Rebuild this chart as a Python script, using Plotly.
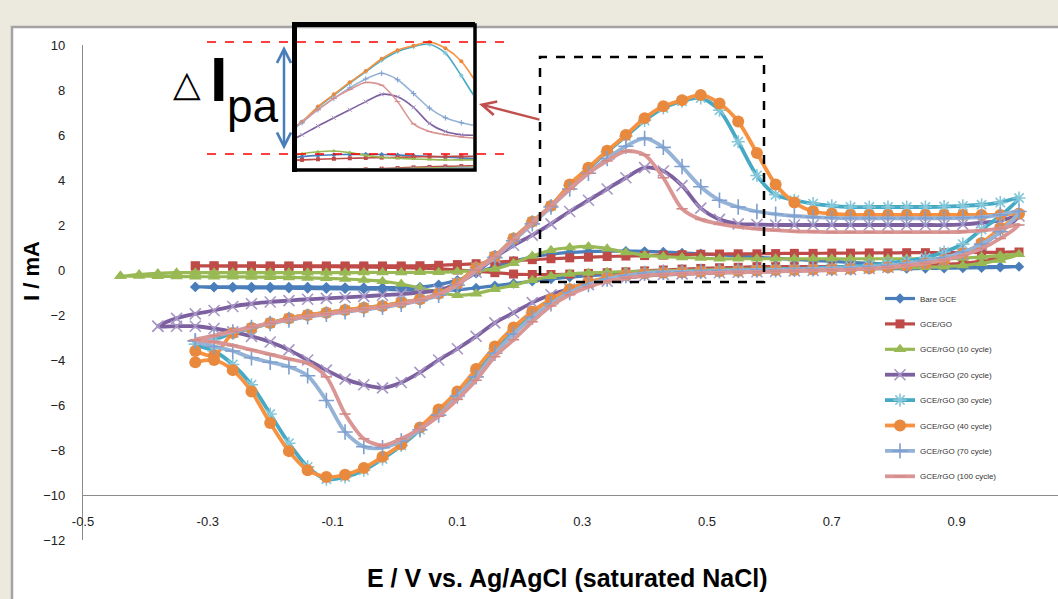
import plotly.graph_objects as go

# ---------------- data ----------------
E_GRID = [-0.32, -0.29, -0.26, -0.23, -0.20, -0.17, -0.14, -0.11, -0.08, -0.05,
          -0.02, 0.01, 0.04, 0.07, 0.10, 0.13, 0.16, 0.19, 0.22, 0.25,
          0.28, 0.31, 0.34, 0.37, 0.40, 0.43, 0.46, 0.49, 0.52, 0.55,
          0.58, 0.61, 0.64, 0.67, 0.70, 0.73, 0.76, 0.79, 0.82, 0.85,
          0.88, 0.91, 0.94, 0.97, 1.00]
E_EXT_PURPLE = [-0.38, -0.35]
E_EXT_GREEN = [-0.44, -0.41, -0.38, -0.35]

# forward sweeps (low -> high E), reverse sweeps (high -> low E, turning point excluded)
bare_fwd = [-0.75, -0.75, -0.75, -0.75, -0.75, -0.75, -0.75, -0.76, -0.77, -0.78,
            -0.78, -0.78, -0.76, -0.65, -0.45, -0.15, 0.15, 0.40, 0.58, 0.70,
            0.78, 0.82, 0.84, 0.84, 0.83, 0.80, 0.76, 0.72, 0.67, 0.62,
            0.57, 0.52, 0.47, 0.42, 0.38, 0.34, 0.30, 0.26, 0.23, 0.20,
            0.18, 0.16, 0.15, 0.15, 0.15]
bare_rev = [0.12, 0.10, 0.09, 0.08, 0.07, 0.06, 0.06, 0.05, 0.05, 0.04,
            0.03, 0.02, 0.02, 0.01, 0.0, -0.02, -0.03, -0.05, -0.08, -0.11,
            -0.15, -0.20, -0.25, -0.32, -0.40, -0.50, -0.60, -0.70, -0.80, -0.88,
            -0.92, -0.90, -0.88, -0.86, -0.85, -0.84, -0.83, -0.82, -0.81, -0.80,
            -0.80, -0.78, -0.77, -0.75]

go_fwd = [0.18, 0.18, 0.18, 0.18, 0.18, 0.18, 0.18, 0.18, 0.18, 0.18,
          0.18, 0.18, 0.19, 0.21, 0.24, 0.28, 0.34, 0.40, 0.46, 0.50,
          0.54, 0.57, 0.60, 0.62, 0.64, 0.66, 0.68, 0.70, 0.71, 0.72,
          0.72, 0.73, 0.74, 0.74, 0.75, 0.75, 0.76, 0.76, 0.77, 0.77,
          0.77, 0.78, 0.78, 0.79, 0.80]
go_rev = [0.55, 0.40, 0.30, 0.25, 0.20, 0.18, 0.15, 0.15, 0.15, 0.15,
          0.15, 0.15, 0.15, 0.15, 0.12, 0.10, 0.07, 0.04, 0.0, -0.04,
          -0.08, -0.12, -0.15, -0.18, -0.20, -0.20, -0.18, -0.12, -0.05, 0.0,
          0.05, 0.08, 0.10, 0.12, 0.13, 0.14, 0.15, 0.15, 0.16, 0.16,
          0.17, 0.17, 0.18, 0.18]

rgo10_fwd = [-0.27, -0.20, -0.15, -0.12,
             -0.12, -0.12, -0.12, -0.12, -0.12, -0.12, -0.12, -0.12, -0.12, -0.11,
             -0.11, -0.11, -0.10, -0.10, -0.07, -0.03, 0.05, 0.30, 0.62, 0.88,
             1.00, 1.05, 0.95, 0.78, 0.66, 0.60, 0.56, 0.53, 0.50, 0.50,
             0.50, 0.50, 0.50, 0.50, 0.50, 0.50, 0.50, 0.50, 0.50, 0.50,
             0.50, 0.53, 0.58, 0.65, 0.70]
rgo10_rev = [0.45, 0.30, 0.20, 0.15, 0.12, 0.10, 0.08, 0.05, 0.05, 0.05,
             0.05, 0.05, 0.05, 0.05, 0.03, 0.02, 0.0, -0.02, -0.04, -0.06,
             -0.08, -0.10, -0.13, -0.18, -0.28, -0.45, -0.68, -0.85, -1.05, -1.12,
             -1.00, -0.80, -0.62, -0.50, -0.44, -0.40, -0.37, -0.35, -0.33, -0.32,
             -0.31, -0.30, -0.30, -0.30,
             -0.29, -0.28, -0.27, -0.27]

rgo20_fwd = [-2.50, -2.15,
             -1.95, -1.80, -1.62, -1.50, -1.42, -1.36, -1.30, -1.26, -1.22, -1.17,
             -1.12, -1.07, -1.00, -0.90, -0.60, -0.10, 0.55, 1.10, 1.55, 2.05,
             2.60, 3.10, 3.60, 4.10, 4.55, 4.40, 3.75, 2.75, 2.25, 2.05,
             2.02, 2.00, 2.00, 2.00, 2.00, 2.00, 2.00, 2.00, 2.00, 2.00,
             2.00, 2.03, 2.10, 2.20, 2.40]
rgo20_rev = [1.70, 1.10, 0.70, 0.45, 0.30, 0.20, 0.12, 0.07, 0.03, 0.0,
             -0.02, -0.04, -0.06, -0.08, -0.10, -0.12, -0.14, -0.17, -0.20, -0.26,
             -0.35, -0.50, -0.65, -0.85, -1.10, -1.45, -1.90, -2.35, -2.95, -3.50,
             -4.00, -4.55, -5.00, -5.24, -5.10, -4.85, -4.45, -4.00, -3.55, -3.20,
             -2.95, -2.75, -2.60, -2.50,
             -2.50, -2.50]

rgo30_fwd = [-3.30, -3.10, -2.80, -2.58, -2.36, -2.15, -2.00, -1.90, -1.78, -1.68,
             -1.60, -1.45, -1.30, -1.05, -0.60, 0.10, 0.60, 1.40, 2.15, 2.85,
             3.75, 4.50, 5.25, 5.95, 6.65, 7.20, 7.50, 7.65, 7.10, 5.70,
             4.20, 3.35, 3.10, 2.95, 2.85, 2.80, 2.80, 2.80, 2.80, 2.80,
             2.82, 2.85, 2.90, 3.00, 3.20]
rgo30_rev = [2.40, 1.80, 1.15, 0.80, 0.55, 0.40, 0.30, 0.22, 0.16, 0.12,
             0.08, 0.05, 0.03, 0.0, -0.02, -0.04, -0.06, -0.08, -0.10, -0.14,
             -0.22, -0.35, -0.55, -0.85, -1.30, -1.90, -2.65, -3.50, -4.50, -5.50,
             -6.30, -7.10, -7.80, -8.40, -8.90, -9.20, -9.30, -8.75, -7.70, -6.40,
             -5.10, -4.20, -3.60, -3.30]

rgo40_fwd = [-3.60, -3.80, -2.80, -2.58, -2.36, -2.15, -2.00, -1.90, -1.78, -1.68,
             -1.60, -1.45, -1.30, -1.05, -0.60, 0.10, 0.60, 1.40, 2.15, 2.85,
             3.80, 4.55, 5.30, 6.00, 6.75, 7.28, 7.55, 7.78, 7.40, 6.60,
             5.20, 3.80, 3.00, 2.60, 2.50, 2.45, 2.45, 2.45, 2.45, 2.45,
             2.45, 2.45, 2.45, 2.45, 2.50]
rgo40_rev = [1.85, 1.20, 0.75, 0.45, 0.30, 0.20, 0.12, 0.08, 0.05, 0.03,
             0.02, 0.0, 0.0, -0.02, -0.04, -0.06, -0.08, -0.10, -0.12, -0.15,
             -0.22, -0.35, -0.55, -0.85, -1.30, -1.85, -2.55, -3.40, -4.40, -5.40,
             -6.20, -7.00, -7.75, -8.30, -8.80, -9.10, -9.20, -8.90, -8.05, -6.80,
             -5.40, -4.45, -4.00, -4.10]

rgo70_fwd = [-3.15, -2.95, -2.75, -2.55, -2.38, -2.22, -2.08, -1.97, -1.86, -1.76,
             -1.66, -1.52, -1.36, -1.12, -0.68, 0.0, 0.55, 1.30, 2.05, 2.80,
             3.60, 4.30, 4.95, 5.50, 5.85, 5.45, 4.60, 3.70, 3.10, 2.80,
             2.60, 2.48, 2.40, 2.35, 2.32, 2.30, 2.30, 2.30, 2.30, 2.30,
             2.30, 2.32, 2.35, 2.45, 2.60]
rgo70_rev = [1.70, 1.15, 0.80, 0.55, 0.40, 0.28, 0.20, 0.14, 0.10, 0.07,
             0.05, 0.03, 0.01, 0.0, -0.02, -0.04, -0.06, -0.08, -0.10, -0.15,
             -0.25, -0.40, -0.65, -1.00, -1.50, -2.10, -2.85, -3.70, -4.75, -5.60,
             -6.45, -7.10, -7.60, -7.90, -7.85, -7.20, -5.80, -4.70, -4.30, -4.10,
             -3.90, -3.60, -3.40, -3.15]

rgo100_fwd = [-3.10, -2.92, -2.72, -2.53, -2.36, -2.20, -2.06, -1.95, -1.84, -1.74,
              -1.64, -1.50, -1.33, -1.08, -0.65, 0.0, 0.60, 1.35, 2.10, 2.85,
              3.60, 4.30, 4.85, 5.28, 5.12, 4.10, 2.72, 2.25, 2.05, 1.92,
              1.83, 1.77, 1.72, 1.70, 1.68, 1.68, 1.68, 1.68, 1.68, 1.68,
              1.68, 1.70, 1.75, 1.85, 2.00]
rgo100_rev = [1.40, 0.95, 0.65, 0.45, 0.30, 0.20, 0.12, 0.06, 0.02, 0.0,
              -0.02, -0.04, -0.06, -0.08, -0.10, -0.12, -0.14, -0.16, -0.20, -0.25,
              -0.35, -0.50, -0.75, -1.10, -1.60, -2.30, -3.10, -3.85, -4.90, -5.75,
              -6.50, -7.05, -7.50, -7.80, -7.50, -6.40, -4.75, -4.15, -3.95, -3.75,
              -3.55, -3.35, -3.20, -3.10]

SERIES_NAMES = ["Bare GCE", "GCE/GO", "GCE/rGO (10 cycle)", "GCE/rGO (20 cycle)",
                "GCE/rGO (30 cycle)", "GCE/rGO (40 cycle)", "GCE/rGO (70 cycle)",
                "GCE/rGO (100 cycle)"]

X_TICKS = [-0.5, -0.3, -0.1, 0.1, 0.3, 0.5, 0.7, 0.9]
X_TICK_TEXT = ["-0.5", "-0.3", "-0.1", "0.1", "0.3", "0.5", "0.7", "0.9"]
Y_TICKS = [10, 8, 6, 4, 2, 0, -2, -4, -6, -8, -10, -12]

# ---------------- build loops ----------------
def loop(e_fwd, i_fwd, i_rev):
    e_rev = list(reversed(e_fwd))[1:]
    return list(e_fwd) + e_rev, list(i_fwd) + list(i_rev)

E_PURPLE = E_EXT_PURPLE + E_GRID
E_GREEN = E_EXT_GREEN + E_GRID

loops = [
    loop(E_GRID, bare_fwd, bare_rev),
    loop(E_GRID, go_fwd, go_rev),
    loop(E_GREEN, rgo10_fwd, rgo10_rev),
    loop(E_PURPLE, rgo20_fwd, rgo20_rev),
    loop(E_GRID, rgo30_fwd, rgo30_rev),
    loop(E_GRID, rgo40_fwd, rgo40_rev),
    loop(E_GRID, rgo70_fwd, rgo70_rev),
    loop(E_GRID, rgo100_fwd, rgo100_rev),
]

# ---------------- styles ----------------
styles = [
    dict(line="#4A7EBB", sym="diamond", size=8, mcol="#4A7EBB", open=False, lw=3.2),
    dict(line="#BE4B48", sym="square", size=9, mcol="#BE4B48", open=False, lw=3.2),
    dict(line="#98B954", sym="triangle-up", size=11, mcol="#98B954", open=False, lw=3.2),
    dict(line="#7D60A0", sym="x-thin-open", size=11, mcol="#A897C5", open=True, lw=3.8),
    dict(line="#46AAC5", sym="asterisk-open", size=11, mcol="#86C7DA", open=True, lw=3.8),
    dict(line="#F69240", sym="circle", size=12, mcol="#E8893E", open=False, lw=3.8),
    dict(line="#95B3D7", sym="cross-thin-open", size=11, mcol="#7F9FCF", open=True, lw=3.8),
    dict(line="#D99694", sym="line-ew-open", size=8, mcol="#D28A88", open=True, lw=3.8),
]

W, H = 1058, 599
L, R, T, B = 83, 0, 20, 59
PW, PH = W - L - R, H - T - B


def px(x):
    return (x - L) / PW


def py(y):
    return (H - B - y) / PH


fig = go.Figure()

for (ex, iy), st, name in zip(loops, styles, SERIES_NAMES):
    mk = dict(symbol=st["sym"], size=st["size"], color=st["mcol"])
    if st["open"]:
        mk["line"] = dict(color=st["mcol"], width=1.6)
    else:
        mk["line"] = dict(color=st["mcol"], width=0)
    fig.add_trace(go.Scatter(
        x=ex, y=iy, name=name, mode="lines+markers",
        line=dict(color=st["line"], width=st["lw"], shape="spline", smoothing=0.8),
        marker=mk, legendgroup=name, xaxis="x", yaxis="y"))

# inset traces (same data, zoomed view)
for (ex, iy), st, name in zip(loops, styles, SERIES_NAMES):
    mk = dict(symbol=st["sym"], size=4, color=st["mcol"])
    if st["open"]:
        mk["line"] = dict(color=st["mcol"], width=1)
    fig.add_trace(go.Scatter(
        x=ex, y=iy, name=name, mode="lines+markers", showlegend=False,
        line=dict(color=st["line"], width=1.6, shape="spline", smoothing=0.8),
        marker=mk, xaxis="x2", yaxis="y2"))

SANS = "Liberation Sans, Arial, sans-serif"

shapes = [
    # white chart area with grey border
    dict(type="rect", xref="paper", yref="paper", layer="below",
         x0=px(12), x1=px(1075), y0=py(615), y1=py(27),
         fillcolor="white", line=dict(color="#A3A3A3", width=2.5)),
    # dashed zoom box
    dict(type="rect", xref="paper", yref="paper", layer="above",
         x0=px(540), x1=px(764), y0=py(282), y1=py(57),
         line=dict(color="black", width=2.5, dash="dash")),
    # red dashed level lines
    dict(type="line", xref="paper", yref="paper", layer="above",
         x0=px(207), x1=px(511), y0=py(42), y1=py(42),
         line=dict(color="#FF0000", width=1.6, dash="dash")),
    dict(type="line", xref="paper", yref="paper", layer="above",
         x0=px(207), x1=px(511), y0=py(154), y1=py(154),
         line=dict(color="#FF0000", width=1.6, dash="dash")),
    # inset frame
    dict(type="rect", xref="paper", yref="paper", layer="above",
         x0=px(295), x1=px(475), y0=py(170), y1=py(25),
         line=dict(color="black", width=3.5)),
    dict(type="line", xref="paper", yref="paper", layer="above",
         x0=px(294.5), x1=px(294.5), y0=py(172), y1=py(22),
         line=dict(color="black", width=5)),
    dict(type="line", xref="paper", yref="paper", layer="above",
         x0=px(292), x1=px(475), y0=py(24.5), y1=py(24.5),
         line=dict(color="black", width=5)),
]

annotations = [
    dict(text="I / mA", xref="paper", yref="paper", x=px(31), y=py(271),
         textangle=-90, showarrow=False, xanchor="center", yanchor="middle",
         font=dict(family=SANS, size=22, color="black", weight="bold")),
    dict(text="E / V vs. Ag/AgCl (saturated NaCl)", xref="paper", yref="paper",
         x=px(567), y=py(578), showarrow=False, xanchor="center", yanchor="middle",
         font=dict(family=SANS, size=25, color="black", weight="bold")),
    dict(text="△", xref="paper", yref="paper", x=px(187), y=py(83),
         showarrow=False, xanchor="center", yanchor="middle",
         font=dict(family="DejaVu Sans, sans-serif", size=36, color="black")),
    dict(text="I", xref="paper", yref="paper", x=px(219), y=py(79),
         showarrow=False, xanchor="center", yanchor="middle",
         font=dict(family=SANS, size=63, color="black", weight="bold")),
    dict(text="pa", xref="paper", yref="paper", x=px(225), y=py(106),
         showarrow=False, xanchor="left", yanchor="middle",
         font=dict(family=SANS, size=46, color="black")),
    # blue double arrow
    dict(text="", xref="paper", yref="paper", x=px(284), y=py(46),
         ax=0, ay=105, axref="pixel", ayref="pixel", showarrow=True,
         arrowside="end+start", arrowhead=5, startarrowhead=5,
         arrowsize=1.1, startarrowsize=1.1, arrowwidth=2.5, arrowcolor="#4A7EBB"),
    # red pointer arrow
    dict(text="", xref="paper", yref="paper", x=px(479), y=py(104),
         ax=62, ay=16, showarrow=True, arrowhead=5, arrowsize=1.1,
         arrowwidth=2.5, arrowcolor="#C0504D"),
]

fig.update_layout(
    width=W, height=H,
    margin=dict(l=L, r=R, t=T, b=B),
    paper_bgcolor="#ECE9DF",
    plot_bgcolor="rgba(0,0,0,0)",
    hovermode=False,
    shapes=shapes,
    annotations=annotations,
    legend=dict(x=px(880), y=py(284), xanchor="left", yanchor="top",
                bgcolor="rgba(0,0,0,0)", tracegroupgap=6.4,
                font=dict(family=SANS, size=8, color="#333333"),
                itemwidth=30),
    xaxis=dict(range=[-0.5, -0.5 + PW / 624.0], domain=[0, 1], anchor="free",
               position=py(495), showline=True, linecolor="#8C8C8C", linewidth=1.3,
               tickvals=X_TICKS, ticktext=X_TICK_TEXT, ticks="", showgrid=False,
               zeroline=False, ticklabelstandoff=14,
               tickfont=dict(family=SANS, size=13, color="#222222")),
    yaxis=dict(range=[-12, 10], domain=[0, py(45)], anchor="x",
               showline=True, linecolor="#8C8C8C", linewidth=1.3,
               tickvals=Y_TICKS, ticks="", showgrid=False, zeroline=False,
               ticklabelstandoff=14,
               tickfont=dict(family=SANS, size=13, color="#222222")),
    xaxis2=dict(domain=[px(297), px(473)], anchor="y2", range=[0.2405, 0.572],
                visible=False),
    yaxis2=dict(domain=[py(168), py(28)], anchor="x2", range=[0.0, 8.65],
                visible=False),
)

fig.write_html(
    "out.html",
    config={"displayModeBar": False},
    post_script="document.body.style.margin='0';document.body.style.background='#ECE9DF';",
)
